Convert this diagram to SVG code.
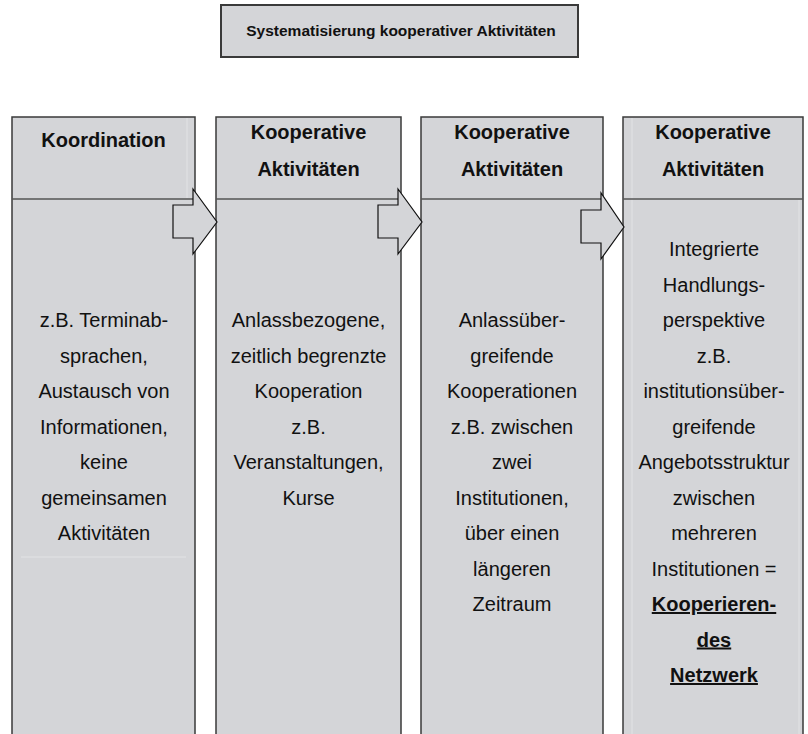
<svg xmlns="http://www.w3.org/2000/svg" width="808" height="734" viewBox="0 0 808 734">
<style>
.box{fill:#d4d5d8;stroke:#3a3a3a;stroke-width:1.5}
.div{stroke:#555;stroke-width:1.5}
.faint{stroke:#e2e3e5;stroke-width:1}
.arrow{fill:#d4d5d8;stroke:#111;stroke-width:1.2;stroke-linejoin:miter}
.t{font-family:"Liberation Sans",Arial,Helvetica,sans-serif;fill:#111;text-anchor:middle}
.title{font-size:15.5px;font-weight:bold}
.head{font-size:20px;font-weight:bold}
.body{font-size:20px}
.ul{font-weight:bold;text-decoration:underline}
</style>
<rect width="808" height="734" fill="#ffffff"/>
<g id="title">
<rect class="box" x="221" y="5" width="357" height="52" style="stroke-width:2"/>
<text class="t title" x="401" y="35.5">Systematisierung kooperativer Aktivitäten</text>
</g>
<g id="col1">
<rect class="box" x="12" y="117" width="183" height="630"/>
<line class="faint" x1="187" y1="118" x2="187" y2="198"/>
<line class="faint" x1="21" y1="557" x2="186" y2="557"/>
<line class="div" x1="12" y1="199" x2="195" y2="199"/>
<text class="t head" x="103.5" y="147">Koordination</text>
<text class="t body" x="104" y="327">z.B. Terminab-</text>
<text class="t body" x="104" y="362.5">sprachen,</text>
<text class="t body" x="104" y="398">Austausch von</text>
<text class="t body" x="104" y="433.5">Informationen,</text>
<text class="t body" x="104" y="469">keine</text>
<text class="t body" x="104" y="504.5">gemeinsamen</text>
<text class="t body" x="104" y="540">Aktivitäten</text>
</g>
<g id="col2">
<rect class="box" x="216" y="117" width="185" height="630"/>
<line class="div" x1="216" y1="199" x2="401" y2="199"/>
<text class="t head" x="308.5" y="139">Kooperative</text>
<text class="t head" x="308.5" y="176">Aktivitäten</text>
<text class="t body" x="308.5" y="327">Anlassbezogene,</text>
<text class="t body" x="308.5" y="362.5">zeitlich begrenzte</text>
<text class="t body" x="308.5" y="398">Kooperation</text>
<text class="t body" x="308.5" y="433.5">z.B.</text>
<text class="t body" x="308.5" y="469">Veranstaltungen,</text>
<text class="t body" x="308.5" y="504.5">Kurse</text>
</g>
<g id="col3">
<rect class="box" x="421" y="117" width="182" height="630"/>
<line class="div" x1="421" y1="199" x2="603" y2="199"/>
<text class="t head" x="512" y="139">Kooperative</text>
<text class="t head" x="512" y="176">Aktivitäten</text>
<text class="t body" x="512" y="327">Anlassüber-</text>
<text class="t body" x="512" y="362.5">greifende</text>
<text class="t body" x="512" y="398">Kooperationen</text>
<text class="t body" x="512" y="433.5">z.B. zwischen</text>
<text class="t body" x="512" y="469">zwei</text>
<text class="t body" x="512" y="504.5">Institutionen,</text>
<text class="t body" x="512" y="540">über einen</text>
<text class="t body" x="512" y="575.5">längeren</text>
<text class="t body" x="512" y="611">Zeitraum</text>
</g>
<g id="col4">
<rect class="box" x="623" y="117" width="180" height="630"/>
<line class="faint" x1="632" y1="118" x2="632" y2="734"/>
<line class="faint" x1="799" y1="200" x2="799" y2="734"/>
<line class="div" x1="623" y1="199" x2="803" y2="199"/>
<text class="t head" x="713" y="139">Kooperative</text>
<text class="t head" x="713" y="176">Aktivitäten</text>
<text class="t body" x="714" y="256">Integrierte</text>
<text class="t body" x="714" y="291.5">Handlungs-</text>
<text class="t body" x="714" y="327">perspektive</text>
<text class="t body" x="714" y="362.5">z.B.</text>
<text class="t body" x="714" y="398">institutionsüber-</text>
<text class="t body" x="714" y="433.5">greifende</text>
<text class="t body" x="714" y="469">Angebotsstruktur</text>
<text class="t body" x="714" y="504.5">zwischen</text>
<text class="t body" x="714" y="540">mehreren</text>
<text class="t body" x="714" y="575.5">Institutionen =</text>
<text class="t body ul" x="714" y="611">Kooperieren-</text>
<text class="t body ul" x="714" y="646.5">des</text>
<text class="t body ul" x="714" y="682">Netzwerk</text>
</g>
<g id="connectors">
<polygon class="arrow" points="173,205 193,205 193,189 217,222 193,254 193,238 173,238"/>
<polygon class="arrow" points="378,205 398,205 398,189 422,222 398,254 398,238 378,238"/>
<polygon class="arrow" points="581,210 601,210 601,193 624,227 601,259 601,243 581,243"/>
</g>
</svg>
